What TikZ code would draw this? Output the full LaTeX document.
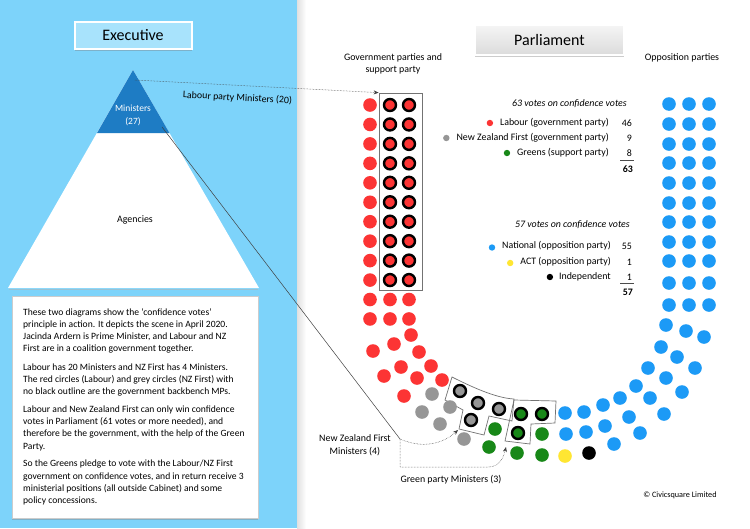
\documentclass[tikz,border=0pt]{standalone}
\usepackage{fontspec}
\setmainfont{Carlito}
\usetikzlibrary{arrows.meta,shadows,calc}
\definecolor{panel}{RGB}{125,211,250}
\definecolor{exebox}{RGB}{168,227,252}
\definecolor{mindark}{RGB}{30,124,196}
\definecolor{lab}{RGB}{252,52,52}
\definecolor{nzf}{RGB}{150,150,150}
\definecolor{grn}{RGB}{24,136,24}
\definecolor{nat}{RGB}{28,154,246}
\definecolor{act}{RGB}{255,230,50}
\tikzset{
  conn/.style={draw=black!75, line width=0.5pt},
  dotconn/.style={conn, densely dotted, -{Stealth[length=5pt,width=4pt]}},
  legtext/.style={anchor=east, inner sep=0pt, font=\fontsize{9.9}{12}\selectfont},
  plain/.style={inner sep=0pt, font=\fontsize{9.9}{12}\selectfont},
  minbox/.style={draw=black!55, line width=0.7pt},
  softshadow/.style={drop shadow={shadow xshift=0pt,shadow yshift=-2pt,opacity=0.4}},
}
\newcommand\seatdot[2]{\fill[#1] #2 circle (6.8pt);}
\newcommand\minseat[2]{\filldraw[fill=#1,draw=black,line width=2.4pt] #2 circle (6pt);}
\begin{document}
\begin{tikzpicture}[x=1pt,y=-1pt]
\useasboundingbox (0,0) rectangle (750,528);
\fill[white] (0,0) rectangle (750,528);
\fill[panel] (0,0) rectangle (297,528);
\shade[left color=black!12, right color=white] (297,0) rectangle (306,528);

% Executive header
\node[fill=exebox, draw=white, line width=2pt, minimum width=117pt, minimum height=27pt, inner sep=0pt, softshadow] (exec) at (133,35) {\fontsize{16}{18}\selectfont Executive};

% pyramid
\draw[black!30, line width=1pt, opacity=0.5] (9,289) -- (258,289);
\fill[white] (8,288) -- (133,70) -- (259,288) -- cycle;
\fill[mindark] (133,70) -- (169.5,133) -- (97,133) -- cycle;
\node[plain, text=white, align=center, font=\fontsize{9.5}{12.5}\selectfont] (ministers) at (133,115.5) {Ministers\\(27)};
\node[plain] (agencies) at (135,220) {Agencies};

% notes box
\node[fill=white, draw=black!20, line width=0.4pt, minimum width=246pt, minimum height=222pt, anchor=north west, inner sep=0pt, softshadow] (notesbox) at (12,296) {};
\node[anchor=north west, inner sep=0pt, align=left, font=\fontsize{9.6}{12.2}\selectfont] (notes) at (23,308) {These two diagrams show the ‘confidence votes’\\
principle in action. It depicts the scene in April 2020.\\
Jacinda Ardern is Prime Minister, and Labour and NZ\\
First are in a coalition government together.\\[6.5pt]
Labour has 20 Ministers and NZ First has 4 Ministers.\\
The red circles (Labour) and grey circles (NZ First) with\\
no black outline are the government backbench MPs.\\[5.5pt]
Labour and New Zealand First can only win confidence\\
votes in Parliament (61 votes or more needed), and\\
therefore be the government, with the help of the Green\\
Party.\\[5.5pt]
So the Greens pledge to vote with the Labour/NZ First\\
government on confidence votes, and in return receive 3\\
ministerial positions (all outside Cabinet) and some\\
policy concessions.};

% Parliament header
\node[top color=black!4, bottom color=black!14, draw=white, line width=1.5pt, minimum width=149pt, minimum height=30pt, inner sep=0pt, softshadow] (parl) at (549.5,40) {\fontsize{16}{18}\selectfont Parliament};
\node[plain, align=center] (govhead) at (393,64) {Government parties and\\support party};
\node[plain] (opphead) at (682,58) {Opposition parties};

% Labour ministers box
\node[minbox, minimum width=43pt, minimum height=197pt, inner sep=0pt] (labbox) at (400.5,191.5) {};

% Labour seats
\foreach \r in {0,...,11} {\pgfmathsetmacro\yy{105+19.45*\r}\seatdot{lab}{(370,\yy)}}
\foreach \r in {0,...,9} {\pgfmathsetmacro\yy{105+19.45*\r}\minseat{lab}{(390,\yy)}\minseat{lab}{(409,\yy)}}
\foreach \r in {10,11} {\pgfmathsetmacro\yy{105+19.45*\r}\seatdot{lab}{(390,\yy)}\seatdot{lab}{(409,\yy)}}
\foreach \p in {(411,335),(394,344),(373,351),(419,352),(431,366),(401,367),(384,376),(417,378),(442,380),(404,396)} {\seatdot{lab}{\p}}

% NZ First
\draw[minbox] (452,377) .. controls (470,386) and (495,398) .. (514,399) -- (512,421) -- (489,416) -- (484,435) -- (459,429) -- (463,410) -- (445,400) -- cycle;
\foreach \p in {(432,394),(422,412),(450,407),(440,424),(464,439)} {\seatdot{nzf}{\p}}
\foreach \p in {(460,391),(478,403),(499,409),(471,420)} {\minseat{nzf}{\p}}

% Greens
\draw[minbox] (514,400) -- (556,401) -- (555,423) -- (531,424) -- (530,444) -- (505,441) -- cycle;
\foreach \p in {(495,429),(489,447),(517,453),(542,434),(542,455)} {\seatdot{grn}{\p}}
\foreach \p in {(521,414),(542,414),(518,433)} {\minseat{grn}{\p}}

% ACT, independent
\seatdot{act}{(565,456)}
\seatdot{black}{(589,453)}

% National
\foreach \yy in {104,124,144,163,183,203,222,242,261,283,305} {\seatdot{nat}{(669,\yy)}\seatdot{nat}{(689,\yy)}\seatdot{nat}{(709,\yy)}}
\foreach \p in {(666,325),(686,331),(704,337),(661,347),(677,357),(695,368),(648,368),(666,378),(682,392),(636,386),(650,398),(664,414),(620,398),(629,417),(640,433),(603,405),(605,426),(614,444),(584,412),(586,432),(565,413),(566,434)} {\seatdot{nat}{\p}}

% Legend: government side
\node[legtext, font=\fontsize{9.9}{12}\itshape] (govvotes) at (627,104) {63 votes on confidence votes};
\node[legtext] (l1) at (609,123) {Labour (government party)};
\node[legtext] (l2) at (609,138) {New Zealand First (government party)};
\node[legtext] (l3) at (609,153) {Greens (support party)};
\fill[lab] ($(l1.west)+(-10,0)$) circle (3.2pt);
\fill[nzf] ($(l2.west)+(-10,0)$) circle (3.2pt);
\fill[grn] ($(l3.west)+(-10,0)$) circle (3.2pt);
\node[legtext] (n1) at (632,123) {46};
\node[legtext] (n2) at (632,138) {9};
\node[legtext] (n3) at (632,153) {8};
\draw[black!70, line width=0.5pt] (620,160) -- (634,160);
\node[legtext, font=\fontsize{9.9}{12}\bfseries] (t1) at (633,169) {63};

% Legend: opposition side
\node[legtext, font=\fontsize{9.9}{12}\itshape] (oppvotes) at (630,225) {57 votes on confidence votes};
\node[legtext] (l4) at (611,246) {National (opposition party)};
\node[legtext] (l5) at (611,262) {ACT (opposition party)};
\node[legtext] (l6) at (611,277) {Independent};
\fill[nat] ($(l4.west)+(-10,1.5)$) circle (3.2pt);
\fill[act] ($(l5.west)+(-10,1)$) circle (3.2pt);
\fill[black] ($(l6.west)+(-9,0)$) circle (3.2pt);
\node[legtext] (n4) at (632,246) {55};
\node[legtext] (n5) at (632,262) {1};
\node[legtext] (n6) at (632,277) {1};
\draw[black!70, line width=0.5pt] (620,283) -- (634,283);
\node[legtext, font=\fontsize{9.9}{12}\bfseries] (t2) at (633,292) {57};

% connectors
\coordinate (apexpt) at (135,80);
\coordinate (minedge) at (162,127);
\coordinate (junction) at (400,439);
\coordinate (nzfbox) at (458,430);
\coordinate (grnbox) at (506,447);
\draw[dotconn] (apexpt) -- (labbox.north west);
\node[plain, rotate=-3] (lablabel) at (237.5,98) {Labour party Ministers (20)};
\draw[conn] (minedge) -- (junction);
\draw[dotconn] (junction) .. controls (425,450) and (445,442) .. (nzfbox);
\draw[dotconn] (junction) -- (400,467) -- (488,467) .. controls (498,467) and (503,460) .. (grnbox);
\node[plain, align=center, font=\fontsize{9.9}{13}\selectfont] (nzflabel) at (355,445.5) {New Zealand First\\Ministers (4)};
\node[plain] (grnlabel) at (451,480) {Green party Ministers (3)};

\node[plain, font=\fontsize{8.2}{10}\selectfont] (copy) at (680,495) {© Civicsquare Limited};
\end{tikzpicture}
\end{document}
